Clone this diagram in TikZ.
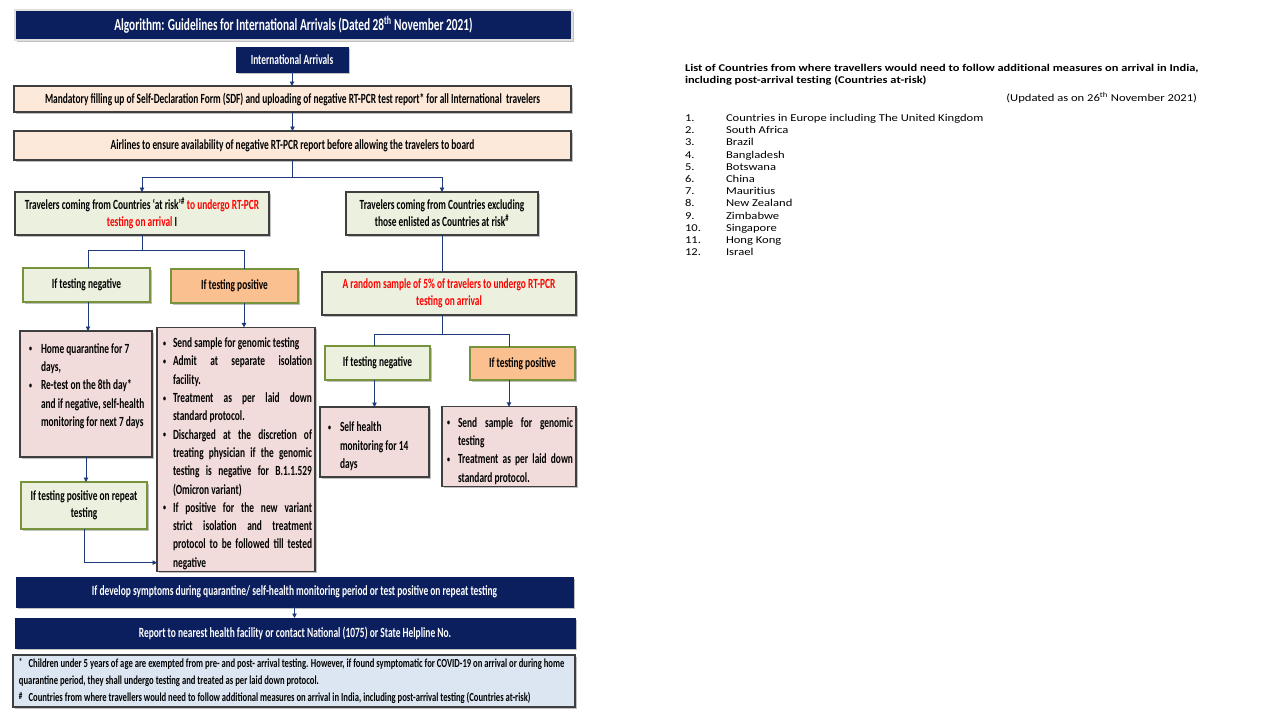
\documentclass[tikz,border=0pt]{standalone}
\usepackage{fontspec}
\usetikzlibrary{arrows.meta,shadows,calc}
\setmainfont{Carlito}
\newfontfamily\cf[FakeStretch=0.67]{Carlito}
\newfontfamily\ff[FakeStretch=0.70]{Carlito}
\newfontfamily\rf[FakeStretch=1.2,RawFeature=-liga]{Carlito}
\definecolor{navy}{HTML}{0B1F5E}
\definecolor{peach}{HTML}{FCE9DA}
\definecolor{lgreen}{HTML}{EBF1DE}
\definecolor{orng}{HTML}{FAC090}
\definecolor{lpink}{HTML}{F2DCDB}
\definecolor{lblue}{HTML}{DCE6F2}
\definecolor{gborder}{HTML}{77933C}
\definecolor{dborder}{HTML}{3F3F3F}
\definecolor{arrowc}{HTML}{1F3A7A}
\definecolor{redt}{HTML}{FF0000}
\newcommand\boxat[7]{%
  \pgfmathsetmacro\qbw{#5-#3}\pgfmathsetmacro\qbh{#6-#4}%
  \pgfmathsetmacro\qbx{(#3+#5)/2}\pgfmathsetmacro\qby{(#4+#6)/2}%
  \node[#1, minimum width=\qbw pt, minimum height=\qbh pt] (#2) at (\qbx,\qby) {#7};}
\newcommand\smallbul{\raisebox{1.5pt}{\fontsize{9}{9}\selectfont\textbullet}}
\newcommand\ragfix{\spaceskip=0pt\xspaceskip=0pt\raggedright}
\newcommand\fmark[1]{\raisebox{2.5pt}{\fontsize{10}{10}\selectfont #1}}
\newenvironment{blist}[2]{\begin{list}{\smallbul}{%
  \setlength\leftmargin{#1}\setlength\labelwidth{#1}\setlength\labelsep{0pt}%
  \setlength\itemsep{0pt}\setlength\parsep{0pt}\setlength\topsep{0pt}%
  \setlength\partopsep{0pt}\setlength\itemindent{0pt}\setlength\listparindent{0pt}%
  \renewcommand\makelabel[1]{\hspace{#2}##1\hfil}}}{\end{list}}
\begin{document}
\begin{tikzpicture}[x=1pt,y=-1pt,
  base/.style={outer sep=0pt, inner sep=2pt, align=center, font=\cf\bfseries\fontsize{14}{17}\selectfont},
  shad/.style={drop shadow={opacity=0.35, shadow xshift=1.5pt, shadow yshift=-1.5pt, fill=black!70}},
  navybox/.style={base, fill=navy, text=white, draw=navy, shad},
  peachbox/.style={base, fill=peach, draw=dborder, line width=1.1pt, shad},
  greybox/.style={base, fill=lgreen, draw=dborder, line width=1.1pt, shad},
  greenbox/.style={base, fill=lgreen, draw=gborder, line width=2pt, shad},
  orangebox/.style={base, fill=orng, draw=gborder, line width=2pt, shad},
  pinkbox/.style={base, fill=lpink, draw=dborder, line width=1.1pt, shad},
  bluebox/.style={base, fill=lblue, draw=dborder, line width=1.1pt, shad},
  bul/.style={font=\cf\bfseries\fontsize{14}{18.3}\selectfont},
  conn/.style={draw=arrowc, line width=0.9pt},
  arr/.style={conn, -{Triangle[length=4.5pt,width=4.5pt]}},
  rtxt/.style={font=\rf\fontsize{10.5}{12.2}\selectfont, inner sep=0pt, outer sep=0pt}
]
\useasboundingbox (0,0) rectangle (1280,720);
% title
\boxat{navybox, draw=gray!25, line width=1.2pt, font=\cf\bfseries\fontsize{16.9}{19}\selectfont}{title}{15}{10}{572}{40}{Algorithm: Guidelines for International Arrivals (Dated 28\textsuperscript{th} November 2021)}
\boxat{navybox}{intl}{236}{47}{348}{72}{International Arrivals}
\boxat{peachbox}{sdf}{14}{86}{571}{112}{Mandatory filling up of Self-Declaration Form (SDF) and uploading of negative RT-PCR test report* for all International~~travelers}
\boxat{peachbox}{air}{14}{131}{571}{160}{Airlines to ensure availability of negative RT-PCR report before allowing the travelers to board}
% left branch
\boxat{greybox}{lrisk}{15}{192}{269}{235}{Travelers coming from Countries ‘at risk’\textsuperscript{\#} \textcolor{redt}{to undergo RT-PCR}\\ \textcolor{redt}{testing on arrival} I}
\boxat{greenbox}{lneg}{23}{268}{150}{302}{If testing negative}
\boxat{orangebox}{lpos}{171}{269}{298}{303}{If testing positive}
\boxat{pinkbox, bul, align=left, text width=124pt}{hq}{20}{331}{152}{457}{\ragfix
\begin{blist}{17pt}{5pt}
\item Home quarantine for 7\newline days,
\item Re-test on the 8th day*\newline and if negative, self-health\newline monitoring for next 7 days
\end{blist}\par\nointerlineskip\vspace{24pt}\hrule height0pt width0pt}
\boxat{pinkbox, bul, align=justify, text width=152pt}{pos}{157}{329}{315}{570}{%
\begin{blist}{13pt}{3pt}
\item Send sample for genomic testing
\item Admit at separate isolation\linebreak facility.
\item Treatment as per laid down\linebreak standard protocol.
\item Discharged at the discretion of\linebreak treating physician if the genomic\linebreak testing is negative for B.1.1.529\linebreak (Omicron variant)
\item If positive for the new variant\linebreak strict isolation and treatment\linebreak protocol to be followed till tested\linebreak negative
\end{blist}}
\boxat{greenbox}{rep}{21}{482}{147}{529}{If testing positive on repeat\\ testing}
% right branch
\boxat{greybox}{rrisk}{346}{192}{538}{235}{Travelers coming from Countries excluding\\ those enlisted as Countries at risk\textsuperscript{\#}}
\boxat{greybox, text=redt}{rand}{322}{272}{576}{315}{A random sample of 5\% of travelers to undergo RT-PCR\\ testing on arrival}
\boxat{greenbox}{rneg}{325}{346}{430}{380}{If testing negative}
\boxat{orangebox}{rpos}{470}{347}{575}{380}{If testing positive}
\boxat{pinkbox, bul, align=left, text width=101pt}{sh}{320}{407}{429}{477}{\ragfix
\begin{blist}{16pt}{4pt}
\item Self health\newline monitoring for 14\newline days
\end{blist}}
\boxat{pinkbox, bul, align=justify, text width=128pt}{rp}{442}{407}{576}{486}{%
\begin{blist}{13pt}{2pt}
\item Send sample for genomic\linebreak testing
\item Treatment as per laid down\linebreak standard protocol.
\end{blist}}
% bottom
\boxat{navybox, font=\cf\bfseries\fontsize{14.1}{16}\selectfont}{dev}{16}{577}{573}{607}{If develop symptoms during quarantine/ self-health monitoring period or test positive on repeat testing}
\boxat{navybox, font=\cf\bfseries\fontsize{14.1}{16}\selectfont}{repb}{15}{618}{575}{648}{Report to nearest health facility or contact National (1075) or State Helpline No.}
\boxat{bluebox, align=left, inner xsep=6pt, text width=550pt, font=\ff\bfseries\fontsize{12.3}{17}\selectfont}{foot}{14}{655}{574}{707}{\ragfix
\fmark{*}\enspace Children under 5 years of age are exempted from pre- and post- arrival testing. However, if found symptomatic for COVID-19 on arrival or during home\\
quarantine period, they shall undergo testing and treated as per laid down protocol.\\
\fmark{\#}\enspace Countries from where travellers would need to follow additional measures on arrival in India, including post-arrival testing (Countries at-risk)}
% connectors
\draw[arr] (intl.south) -- (intl.south |- sdf.north);
\draw[arr] (sdf.south) -- (sdf.south |- air.north);
\draw[conn] (air.south) -- ++(0,17) coordinate (j1);
\draw[arr] (j1) -| (lrisk.north);
\draw[arr] (j1) -| (rrisk.north);
\draw[conn] (lrisk.south) -- ++(0,15) coordinate (j2);
\draw[conn] (j2) -| ([xshift=1.5pt]lneg.north);
\draw[conn] (j2) -| ([xshift=9.5pt]lpos.north);
\draw[arr] ([xshift=1.5pt]lneg.south) -- ([xshift=1.5pt]lneg.south |- hq.north);
\draw[arr] ([xshift=9.5pt]lpos.south) -- ([xshift=9.5pt]lpos.south |- pos.north);
\draw[arr] (hq.south) -- (hq.south |- rep.north);
\coordinate (pin) at ($(pos.south west)+(0,-9)$);
\draw[arr] (rep.south) |- (pin);
\draw[conn] (rrisk.south) -- (rrisk.south |- rand.north);
\draw[conn] (rand.south -| rrisk.south) -- ++(0,19) coordinate (j3);
\draw[conn] (j3) -| (sh.north |- rneg.north);
\draw[conn] (j3) -| (rp.north |- rpos.north);
\draw[arr] (sh.north |- rneg.south) -- (sh.north);
\draw[arr] (rp.north |- rpos.south) -- (rp.north);
\draw[arr] (dev.south) -- (dev.south |- repb.north);
% right list
\node[rtxt, font=\rf\bfseries\fontsize{10.35}{12.2}\selectfont, anchor=base west, align=left] (head) at (685,83.5) {List of Countries from where travellers would need to follow additional measures on arrival in India,\\ including post-arrival testing (Countries at-risk)};
\node[rtxt, anchor=base east] (upd) at (1197,101.5) {(Updated as on 26\textsuperscript{th} November 2021)};
\foreach \c [count=\i] in {Countries in Europe including The United Kingdom, South Africa, Brazil, Bangladesh, Botswana, China, Mauritius, New Zealand, Zimbabwe, Singapore, Hong Kong, Israel}{
  \node[rtxt, anchor=base west] (num\i) at (685,{121.5+(\i-1)*12.2}) {\i.};
  \node[rtxt, anchor=base west] (cty\i) at (726,{121.5+(\i-1)*12.2}) {\c};
}
\end{tikzpicture}
\end{document}
